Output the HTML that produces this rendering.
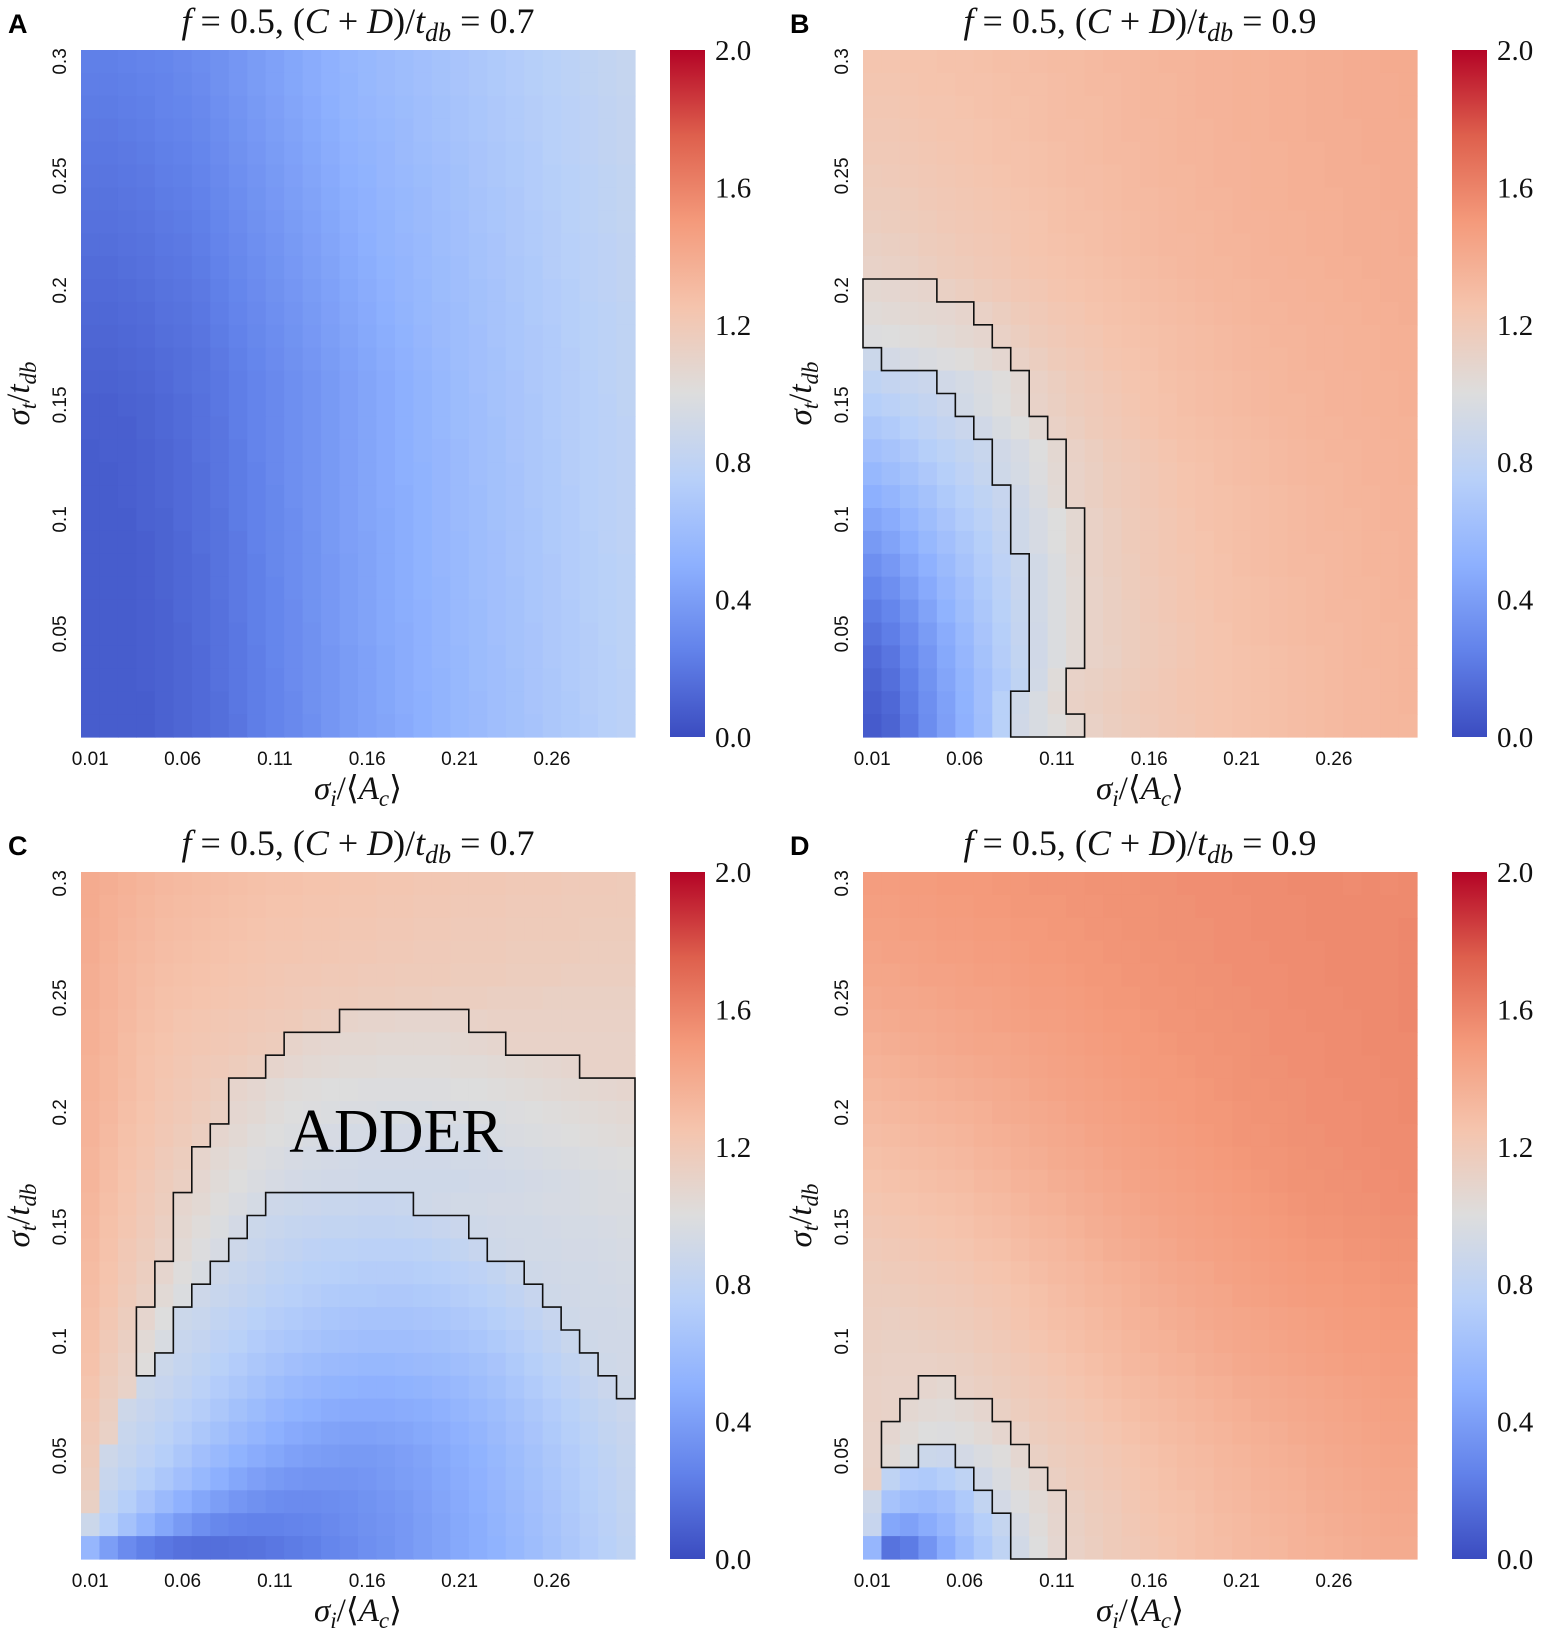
<!DOCTYPE html>
<html><head><meta charset="utf-8"><style>
html,body{margin:0;padding:0;background:#fff;}
svg{display:block;}
.tick{font-family:"Liberation Sans",sans-serif;font-size:19px;fill:#111;}
.cbt{font-family:"Liberation Serif",serif;font-size:29px;fill:#111;}
.ttl{font-family:"Liberation Serif",serif;font-size:36px;fill:#111;}
.ax{font-family:"Liberation Serif",serif;font-size:33px;fill:#111;}
.lett{font-family:"Liberation Sans",sans-serif;font-size:27px;font-weight:bold;fill:#000;}
</style></head><body>
<svg id="fig" width="1543" height="1641" viewBox="0 0 1543 1641" xmlns="http://www.w3.org/2000/svg">
<defs>
<linearGradient id="cw" x1="0" y1="1" x2="0" y2="0">
<stop offset="0" stop-color="rgb(59,76,192)"/><stop offset="0.125" stop-color="rgb(98,130,234)"/>
<stop offset="0.25" stop-color="rgb(141,176,254)"/><stop offset="0.375" stop-color="rgb(184,208,249)"/>
<stop offset="0.5" stop-color="rgb(221,221,221)"/><stop offset="0.625" stop-color="rgb(245,196,173)"/>
<stop offset="0.75" stop-color="rgb(244,154,123)"/><stop offset="0.875" stop-color="rgb(222,96,77)"/>
<stop offset="1" stop-color="rgb(180,4,38)"/></linearGradient>
</defs>
</svg>
<script>
// value x100, rows listed top (sigma_t=0.30) to bottom (sigma_t=0.01)
const xTickLabels = ["0.01","0.06","0.11","0.16","0.21","0.26"];
const yTickLabels = ["0.05","0.1","0.15","0.2","0.25","0.3"];
const cbTickLabels = ["0.0","0.4","0.8","1.2","1.6","2.0"];
const panelLetters = ["A","B","C","D"];
const panelRatios = ["0.7","0.9","0.7","0.9"];
const bandLow = 90, bandHigh = 110;

const valuesA = [
[24,24,25,26,27,29,31,33,36,39,42,45,48,51,54,56,58,60,62,64,66,68,70,72,74,76,78,80,82,84],
[23,23,24,25,26,28,30,33,36,39,42,45,48,51,53,56,58,60,62,64,66,68,70,72,74,76,78,80,82,84],
[22,22,23,24,26,27,29,32,35,38,41,44,47,50,53,55,57,59,61,63,65,67,69,71,73,75,77,79,81,83],
[21,21,22,23,25,26,28,31,34,37,40,43,46,49,52,54,56,58,61,63,65,67,69,71,73,75,77,79,81,83],
[20,20,21,22,24,25,27,30,33,36,39,42,45,48,51,53,55,58,60,62,64,66,68,70,72,75,77,79,81,83],
[19,19,20,21,23,24,26,29,32,35,38,41,44,47,50,52,55,57,59,61,63,66,68,70,72,74,76,78,80,82],
[18,18,19,20,22,23,25,28,31,34,37,40,43,46,49,51,54,56,58,61,63,65,67,69,72,74,76,78,80,82],
[17,17,18,19,21,22,24,27,30,33,36,39,42,45,48,51,53,56,58,60,62,65,67,69,71,73,76,78,80,82],
[16,16,17,18,20,21,23,26,29,32,35,38,41,44,47,50,53,55,57,60,62,64,66,69,71,73,75,77,79,81],
[15,15,16,17,19,20,22,25,28,31,34,37,40,43,46,49,52,54,57,59,61,64,66,68,70,73,75,77,79,81],
[14,14,15,16,18,19,21,24,27,30,33,36,39,42,45,48,51,54,56,59,61,63,65,68,70,72,74,77,79,81],
[13,13,14,15,17,18,20,23,26,29,32,35,38,41,44,47,50,53,56,58,60,63,65,67,70,72,74,76,78,80],
[12,12,13,14,16,17,19,22,25,28,31,34,37,40,43,46,49,52,55,58,60,62,65,67,69,71,74,76,78,80],
[11,11,12,13,15,16,18,21,24,27,30,33,36,39,42,45,48,51,54,57,60,62,64,67,69,71,73,76,78,80],
[10,10,11,12,14,16,18,20,23,26,29,32,35,38,41,44,47,50,53,56,59,62,64,66,69,71,73,75,78,80],
[9,9,10,11,13,15,17,20,23,26,29,32,35,38,41,44,47,50,53,56,59,61,64,66,68,71,73,75,77,80],
[9,9,9,11,13,15,17,19,23,26,29,32,35,38,41,44,47,50,53,56,59,61,63,66,68,71,73,75,77,79],
[8,9,9,10,12,14,17,19,22,26,29,32,35,38,41,44,47,50,53,55,58,61,63,66,68,70,73,75,77,79],
[8,8,9,10,12,14,16,19,22,25,29,32,35,38,41,44,47,50,52,55,58,61,63,65,68,70,73,75,77,79],
[8,8,9,10,12,14,16,19,22,25,28,32,35,38,41,44,47,49,52,55,58,60,63,65,68,70,72,75,77,79],
[8,8,8,10,11,14,16,18,22,25,28,31,35,38,41,44,46,49,52,55,58,60,63,65,67,70,72,75,77,79],
[8,8,8,9,11,13,16,18,21,25,28,31,34,38,41,43,46,49,52,55,57,60,62,65,67,70,72,74,77,79],
[8,8,8,9,11,13,15,18,21,24,28,31,34,37,40,43,46,49,52,55,57,60,62,65,67,69,72,74,76,78],
[8,8,8,9,11,13,15,18,21,24,27,31,34,37,40,43,46,49,52,54,57,60,62,64,67,69,72,74,76,78],
[8,8,8,9,10,13,15,17,21,24,27,30,34,37,40,43,46,49,51,54,57,59,62,64,67,69,71,74,76,78],
[8,8,8,9,10,12,15,17,20,24,27,30,33,37,40,43,46,48,51,54,57,59,62,64,66,69,71,73,76,78],
[8,8,8,9,10,12,14,17,20,23,27,30,33,36,39,42,45,48,51,54,56,59,61,64,66,69,71,73,75,78],
[8,8,8,9,10,12,14,17,20,23,26,30,33,36,39,42,45,48,51,53,56,59,61,63,66,68,71,73,75,77],
[8,8,8,8,10,12,14,16,20,23,26,29,33,36,39,42,45,48,50,53,56,58,61,63,66,68,70,73,75,77],
[8,8,8,8,10,12,14,16,19,23,26,29,32,36,39,42,44,47,50,53,56,58,61,63,65,68,70,72,75,77]];

const valuesB = [
[124,124,125,125,126,126,127,128,128,129,130,130,131,132,132,133,134,134,135,135,136,136,137,137,138,138,139,139,140,140],
[123,123,124,125,125,126,126,127,128,128,129,130,131,131,132,133,133,134,135,135,136,136,137,137,138,138,139,139,139,140],
[122,122,123,124,124,125,126,127,127,128,129,130,130,131,132,133,133,134,135,135,136,136,137,137,138,138,139,139,139,140],
[121,121,122,123,124,124,125,126,127,128,129,129,130,131,132,132,133,134,134,135,136,136,137,137,138,138,138,139,139,139],
[120,120,121,122,123,124,125,126,126,127,128,129,130,131,131,132,133,134,134,135,135,136,136,137,137,138,138,139,139,139],
[118,119,120,121,122,123,124,125,126,127,128,129,129,130,131,132,133,133,134,135,135,136,136,137,137,138,138,138,139,139],
[117,117,118,120,121,122,123,124,125,126,127,128,129,130,131,131,132,133,134,134,135,136,136,137,137,137,138,138,139,139],
[115,116,117,118,120,121,122,123,124,125,127,128,128,129,130,131,132,133,133,134,135,135,136,136,137,137,138,138,138,139],
[113,114,115,117,118,120,121,122,124,125,126,127,128,129,130,131,132,132,133,134,134,135,136,136,137,137,138,138,138,139],
[111,112,113,115,117,118,120,121,123,124,125,126,127,128,129,130,131,132,133,133,134,135,135,136,136,137,137,138,138,138],
[106,107,108,109,113,115,117,119,121,122,124,125,126,127,128,129,130,131,132,133,133,134,135,135,136,136,137,137,138,138],
[103,104,105,106,107,109,112,115,118,120,122,123,125,126,127,128,129,130,131,132,133,134,134,135,135,136,136,137,137,138],
[99,100,101,102,104,106,108,112,115,118,120,122,123,125,126,127,128,129,130,131,132,133,134,134,135,135,136,136,137,137],
[88,93,95,97,99,101,104,107,112,115,118,120,122,124,125,126,128,129,130,131,132,133,133,134,135,135,136,136,137,137],
[80,83,85,87,91,94,97,101,105,112,115,118,120,122,124,125,127,128,129,130,131,132,133,134,134,135,135,136,136,137],
[74,77,80,83,87,92,96,100,104,111,114,117,119,121,123,125,126,128,129,130,131,132,133,133,134,135,135,136,136,137],
[68,71,75,79,83,87,91,96,100,105,112,115,118,120,122,124,126,127,128,129,130,131,132,133,134,134,135,135,136,136],
[62,65,69,74,78,82,86,91,95,100,106,112,115,118,120,122,124,126,127,128,129,130,131,132,133,134,134,135,135,136],
[56,60,64,69,74,79,84,90,94,99,105,111,114,117,119,121,123,125,126,128,129,130,131,132,133,133,134,135,135,136],
[50,54,59,64,70,75,80,85,91,97,104,111,114,117,119,121,123,125,126,127,128,129,130,131,132,133,134,134,135,135],
[44,48,54,60,66,72,77,83,90,95,100,106,112,115,118,120,122,124,126,127,128,129,130,131,132,133,133,134,135,135],
[38,43,49,56,62,68,74,81,90,95,100,106,112,115,118,120,122,124,125,127,128,129,130,131,132,132,133,134,134,135],
[32,37,44,51,58,65,72,79,86,92,98,105,112,115,117,120,122,123,125,126,128,129,130,131,131,132,133,134,134,135],
[27,32,39,47,55,62,70,77,85,92,98,104,111,114,117,119,121,123,125,126,127,128,129,130,131,132,133,133,134,135],
[22,27,34,43,52,60,68,76,84,92,98,104,111,114,116,119,121,123,124,126,127,128,129,130,131,132,132,133,134,134],
[18,23,30,39,48,57,66,74,83,91,98,104,111,114,116,118,120,122,124,125,127,128,129,130,131,131,132,133,133,134],
[14,19,27,36,46,55,64,73,82,91,98,104,111,113,116,118,120,122,124,125,126,127,128,129,130,131,132,133,133,134],
[11,16,24,34,44,53,62,71,80,92,102,111,113,115,117,119,121,123,124,125,126,127,128,129,130,131,132,132,133,134],
[9,13,22,32,42,52,62,76,90,96,104,112,114,116,118,120,121,123,124,125,126,127,128,129,130,131,132,132,133,134],
[7,11,20,31,41,51,61,76,91,96,101,106,112,115,117,119,121,122,124,125,126,127,128,129,130,131,132,132,133,133]];

const valuesC = [
[140,138,136,134,132,131,130,129,128,127,126,126,125,125,124,124,123,123,122,122,121,121,121,120,120,120,119,119,119,118],
[140,137,135,133,131,130,129,128,127,126,125,125,124,124,123,123,122,122,121,121,120,120,120,119,119,119,118,118,118,118],
[139,137,134,132,130,129,128,127,126,125,124,124,123,123,122,122,121,121,120,120,119,119,119,118,118,118,118,117,117,117],
[139,136,133,131,129,128,127,126,125,124,123,123,122,122,121,121,120,120,119,119,118,118,118,117,117,117,117,116,116,116],
[138,135,132,130,128,127,126,125,124,123,122,121,121,120,120,119,119,118,118,118,117,117,117,116,116,116,115,115,115,115],
[138,135,132,129,127,126,125,124,123,122,121,120,119,118,118,117,117,116,116,115,115,115,114,114,114,113,113,113,113,113],
[137,134,131,128,126,124,123,122,121,120,119,118,116,115,110,109,109,108,108,108,109,111,112,112,112,112,112,112,112,112],
[137,134,130,127,125,123,122,121,120,118,117,110,108,107,106,106,105,105,105,105,106,107,108,111,111,111,111,111,111,111],
[136,133,130,126,124,122,120,119,117,115,109,107,105,104,103,103,102,102,102,102,103,103,104,105,106,107,108,111,111,111],
[136,133,129,126,123,121,119,116,109,107,104,102,101,100,100,99,99,99,99,99,100,100,101,102,103,104,105,106,107,108],
[135,132,128,125,122,120,117,114,107,105,102,100,99,98,97,97,96,96,96,97,97,98,98,99,100,101,102,103,104,105],
[135,131,127,124,121,118,115,108,105,102,100,98,96,95,94,94,93,93,93,94,94,95,96,97,98,99,100,101,102,103],
[134,130,126,123,119,116,109,105,102,99,97,95,94,93,92,91,91,91,91,91,92,92,93,94,95,96,97,98,99,100],
[134,129,125,121,117,114,107,103,100,97,95,93,92,91,91,90,90,90,90,90,90,91,91,92,93,94,95,96,97,98],
[133,128,124,120,116,108,105,101,97,94,89,88,87,86,86,85,85,86,90,91,92,92,93,93,94,95,95,96,97,97],
[132,127,123,119,114,106,102,98,93,88,86,84,83,82,82,81,81,82,83,85,87,90,91,92,92,93,94,94,95,96],
[131,126,121,117,112,104,99,95,89,86,83,81,79,78,78,77,77,77,78,80,82,85,90,91,92,92,93,93,94,95],
[130,125,120,115,108,101,96,89,86,83,80,78,76,75,74,73,73,73,74,75,77,79,82,86,90,91,92,92,93,94],
[129,124,118,113,104,98,89,86,83,80,77,75,73,71,70,70,69,69,70,71,73,75,78,81,85,90,91,92,92,93],
[128,122,116,108,100,88,86,82,79,76,73,71,69,67,66,65,65,65,66,67,69,71,74,77,81,85,90,91,91,92],
[127,120,114,104,96,86,83,79,76,72,69,67,65,63,62,61,61,61,62,63,65,67,70,73,77,81,86,90,91,91],
[126,118,112,101,88,84,80,76,72,68,65,62,60,58,57,56,56,57,58,59,61,63,66,70,74,78,82,86,90,91],
[124,116,111,88,85,81,77,72,68,64,60,57,55,53,52,51,51,52,53,55,57,60,63,67,71,75,79,83,87,90],
[122,114,89,85,81,77,73,68,63,59,55,52,50,48,47,47,47,48,49,51,54,57,60,64,68,72,76,80,84,87],
[120,112,86,82,78,73,68,63,58,54,50,47,45,43,42,42,43,44,46,48,51,54,58,62,66,70,74,78,82,85],
[118,89,84,79,74,68,62,57,52,48,45,42,40,39,38,38,39,41,43,46,49,52,56,60,64,68,72,76,80,84],
[116,86,80,74,68,62,56,50,45,41,38,36,35,35,35,36,38,40,42,45,48,51,55,59,63,67,71,75,79,83],
[113,82,74,66,58,51,45,40,36,33,31,30,30,31,32,34,36,38,41,44,47,50,54,58,62,66,70,74,78,82],
[88,75,64,54,45,38,32,28,26,25,25,26,27,29,31,33,35,37,40,43,46,49,53,57,61,65,69,73,77,81],
[55,40,30,24,20,17,16,16,17,18,20,22,24,27,29,32,34,37,40,43,46,49,52,56,60,64,68,72,76,80]];

const valuesD = [
[148,148,149,149,150,150,150,151,151,152,152,152,153,153,153,154,154,155,155,155,156,156,156,157,157,157,156,157,156,157],
[147,147,148,148,149,149,150,150,151,151,151,152,152,153,153,153,154,154,155,155,155,156,156,156,157,157,157,157,157,157],
[146,146,147,147,148,148,149,149,150,150,151,151,152,152,153,153,154,154,154,155,155,156,156,156,157,157,157,157,157,158],
[144,145,145,146,147,147,148,148,149,150,150,151,151,152,152,153,153,154,154,155,155,155,156,156,156,157,157,157,157,158],
[143,143,144,145,145,146,147,147,148,149,149,150,151,151,152,152,153,153,154,154,155,155,155,156,156,157,157,157,157,158],
[141,142,142,143,144,145,145,146,147,148,148,149,150,151,151,152,152,153,153,154,154,155,155,156,156,156,157,157,157,158],
[139,140,141,141,142,143,144,145,146,147,147,148,149,150,150,151,152,152,153,153,154,154,155,155,156,156,156,157,157,158],
[137,138,139,140,141,142,143,143,144,145,146,147,148,149,150,150,151,152,152,153,153,154,155,155,155,156,156,157,157,157],
[135,136,137,138,139,140,141,142,143,144,145,146,147,148,149,150,150,151,152,152,153,154,154,155,155,156,156,156,157,157],
[133,134,135,136,137,138,139,140,141,143,144,145,146,147,148,149,150,150,151,152,153,153,154,154,155,155,156,156,156,157],
[131,132,133,134,135,136,137,139,140,141,142,144,145,146,147,148,149,150,151,151,152,153,153,154,155,155,155,156,156,157],
[129,130,131,132,133,134,136,137,138,140,141,142,144,145,146,147,148,149,150,151,152,152,153,154,154,155,155,156,156,156],
[127,128,129,130,131,132,134,135,137,138,140,141,142,144,145,146,147,148,149,150,151,152,152,153,154,154,155,155,156,156],
[125,126,127,128,129,130,132,133,135,136,138,139,141,142,144,145,146,147,148,149,150,151,152,153,153,154,154,155,155,156],
[123,124,125,126,127,128,130,131,133,135,136,138,139,141,142,144,145,146,147,148,149,150,151,152,153,153,154,154,155,155],
[121,122,123,124,125,126,128,129,131,133,134,136,138,139,141,142,144,145,146,147,148,149,150,151,152,152,153,153,154,154],
[119,120,121,122,123,124,126,127,129,131,132,134,136,138,139,141,142,144,145,146,147,148,149,150,151,151,152,152,153,153],
[117,118,119,120,121,122,124,125,127,129,131,132,134,136,137,139,141,142,143,145,146,147,148,149,150,150,151,151,152,152],
[116,116,117,118,119,120,122,123,125,127,129,131,133,134,136,138,139,141,142,143,145,146,147,148,149,149,150,150,151,151],
[115,114,115,116,117,118,120,122,124,126,128,129,131,133,135,136,138,139,141,142,143,144,145,146,147,148,149,149,150,150],
[114,113,113,114,115,116,118,120,122,124,126,128,130,131,133,135,136,138,139,141,142,143,144,145,146,147,148,148,149,149],
[113,112,112,112,113,114,116,118,120,122,124,126,128,130,132,133,135,136,138,139,141,142,143,144,145,146,147,147,148,148],
[112,111,111,108,106,112,114,116,118,120,122,124,126,128,130,131,133,134,136,137,139,140,141,142,143,144,145,146,147,147],
[112,111,106,104,103,105,108,113,116,118,120,122,124,126,128,130,131,133,134,136,137,139,140,141,142,143,144,145,146,146],
[111,107,103,100,99,101,104,108,112,116,118,120,122,124,126,128,130,131,133,134,136,137,138,140,141,142,143,144,145,145],
[111,104,98,88,87,93,97,101,107,113,116,118,120,122,124,126,128,130,131,133,134,136,137,138,140,141,142,143,144,144],
[112,80,72,70,74,80,91,97,103,108,114,117,119,121,123,125,127,129,130,132,133,135,136,137,139,140,141,142,143,143],
[89,65,60,58,62,70,82,93,99,104,109,114,117,119,122,124,126,127,129,131,132,134,135,136,138,139,140,141,142,142],
[85,45,42,48,55,65,74,84,95,102,108,113,116,118,121,123,125,126,128,130,131,133,134,135,137,138,139,140,141,141],
[55,18,22,35,48,60,70,80,92,100,107,112,115,118,120,122,124,126,128,129,131,132,133,135,136,137,138,139,140,140]];

const panelValues = [valuesA, valuesB, valuesC, valuesD];
const panelOrigins = [[81,50],[863,50],[81,872],[863,872]];
const PW = 554, PH = 687, NC = 30, NR = 30, VMAX = 200;

const stops = [[59,76,192],[98,130,234],[141,176,254],[184,208,249],[221,221,221],[245,196,173],[244,154,123],[222,96,77],[180,4,38]];
function cmap(v){
  let t = Math.max(0, Math.min(1, v / VMAX)) * 8;
  let i = Math.min(7, Math.floor(t)), f = t - i;
  const a = stops[i], b = stops[i+1];
  return 'rgb(' + [0,1,2].map(k => Math.round(a[k] + (b[k]-a[k])*f)).join(',') + ')';
}
const NS = 'http://www.w3.org/2000/svg';
const svg = document.getElementById('fig');
function mk(tag, attrs, parent){
  const e = document.createElementNS(NS, tag);
  for (const k in attrs) e.setAttribute(k, attrs[k]);
  (parent || svg).appendChild(e);
  return e;
}
function inBand(v){ return v >= bandLow && v <= bandHigh; }

panelValues.forEach((vals, p) => {
  const [x0, y0] = panelOrigins[p];
  const cw = PW / NC, ch = PH / NR;
  const xs = c => x0 + c * cw;
  const ys = r => y0 + r * ch;
  const g = mk('g', {});
  
  
  for (let r = 0; r < NR; r++) for (let c = 0; c < NC; c++) {
    const cell = mk('rect', {x: xs(c).toFixed(2), y: ys(r).toFixed(2), width: (cw + 0.6).toFixed(2), height: (ch + 0.6).toFixed(2), fill: cmap(vals[r][c])}, g);
    
    
  }
  let d = '';
  for (let r = 0; r < NR; r++) for (let c = 0; c < NC; c++) {
    if (!inBand(vals[r][c])) continue;
    const ib = (rr, cc) => rr >= 0 && rr < NR && cc >= 0 && cc < NC && inBand(vals[rr][cc]);
    if (!ib(r-1, c)) d += `M${xs(c)},${ys(r)}H${xs(c+1)}`;
    if (!ib(r+1, c)) d += `M${xs(c)},${ys(r+1)}H${xs(c+1)}`;
    if (!ib(r, c-1)) d += `M${xs(c)},${ys(r)}V${ys(r+1)}`;
    if (!ib(r, c+1)) d += `M${xs(c+1)},${ys(r)}V${ys(r+1)}`;
  }
  if (d) {
    const path = mk('path', {d: d, stroke: '#111', 'stroke-width': 1.6, fill: 'none', 'stroke-linecap': 'square'});
    
    
  }
  xTickLabels.forEach((lab, i) => {
    const t = mk('text', {x: xs(i*5 + 0.5), y: y0 + PH + 28, 'text-anchor': 'middle', class: 'tick'});
    t.textContent = lab;
    
    
  });
  yTickLabels.forEach((lab, i) => {
    const rowFromBottom = i*5 + 4;
    const yy = ys(NR - 1 - rowFromBottom + 0.5);
    const t = mk('text', {x: 0, y: 0, 'text-anchor': 'middle', class: 'tick', transform: `translate(${x0 - 15},${yy}) rotate(-90)`});
    t.textContent = lab;
    
    
  });
  const cbx = x0 + 589;
  const cb = mk('rect', {x: cbx, y: y0, width: 35, height: PH, fill: 'url(#cw)'});
  
  
  cbTickLabels.forEach((lab, i) => {
    const t = mk('text', {x: cbx + 45, y: y0 + PH - i * PH / 5 + 10, class: 'cbt'});
    t.textContent = lab;
    
    
  });
  const tt = mk('text', {x: x0 + PW/2, y: y0 - 17, 'text-anchor': 'middle', class: 'ttl'});
  tt.innerHTML = `<tspan font-style="italic">f</tspan> = 0.5, (<tspan font-style="italic">C</tspan> + <tspan font-style="italic">D</tspan>)/<tspan font-style="italic">t</tspan><tspan font-style="italic" font-size="26" dy="8">db</tspan><tspan dy="-8"> = ${panelRatios[p]}</tspan>`;
  
  
  const lt = mk('text', {x: x0 - 73, y: y0 - 17, class: 'lett'});
  lt.textContent = panelLetters[p];
  
  
  const xt = mk('text', {x: x0 + PW/2, y: y0 + PH + 62, 'text-anchor': 'middle', class: 'ax'});
  xt.innerHTML = `<tspan font-style="italic">σ</tspan><tspan font-style="italic" font-size="23" dy="7">i</tspan><tspan dy="-7">/⟨</tspan><tspan font-style="italic">A</tspan><tspan font-style="italic" font-size="23" dy="7">c</tspan><tspan dy="-7">⟩</tspan>`;
  
  
  const yt = mk('text', {x: 0, y: 0, 'text-anchor': 'middle', class: 'ax', transform: `translate(${x0 - 52},${y0 + PH/2}) rotate(-90)`});
  yt.innerHTML = `<tspan font-style="italic">σ</tspan><tspan font-style="italic" font-size="23" dy="7">t</tspan><tspan dy="-7">/</tspan><tspan font-style="italic">t</tspan><tspan font-style="italic" font-size="23" dy="7">db</tspan>`;
  
  
});
const ad = mk('text', {x: 396, y: 1152, 'text-anchor': 'middle', 'font-family': '"Liberation Serif", serif', 'font-size': 62, fill: '#000'});
ad.textContent = 'ADDER';


</script>
</body></html>
